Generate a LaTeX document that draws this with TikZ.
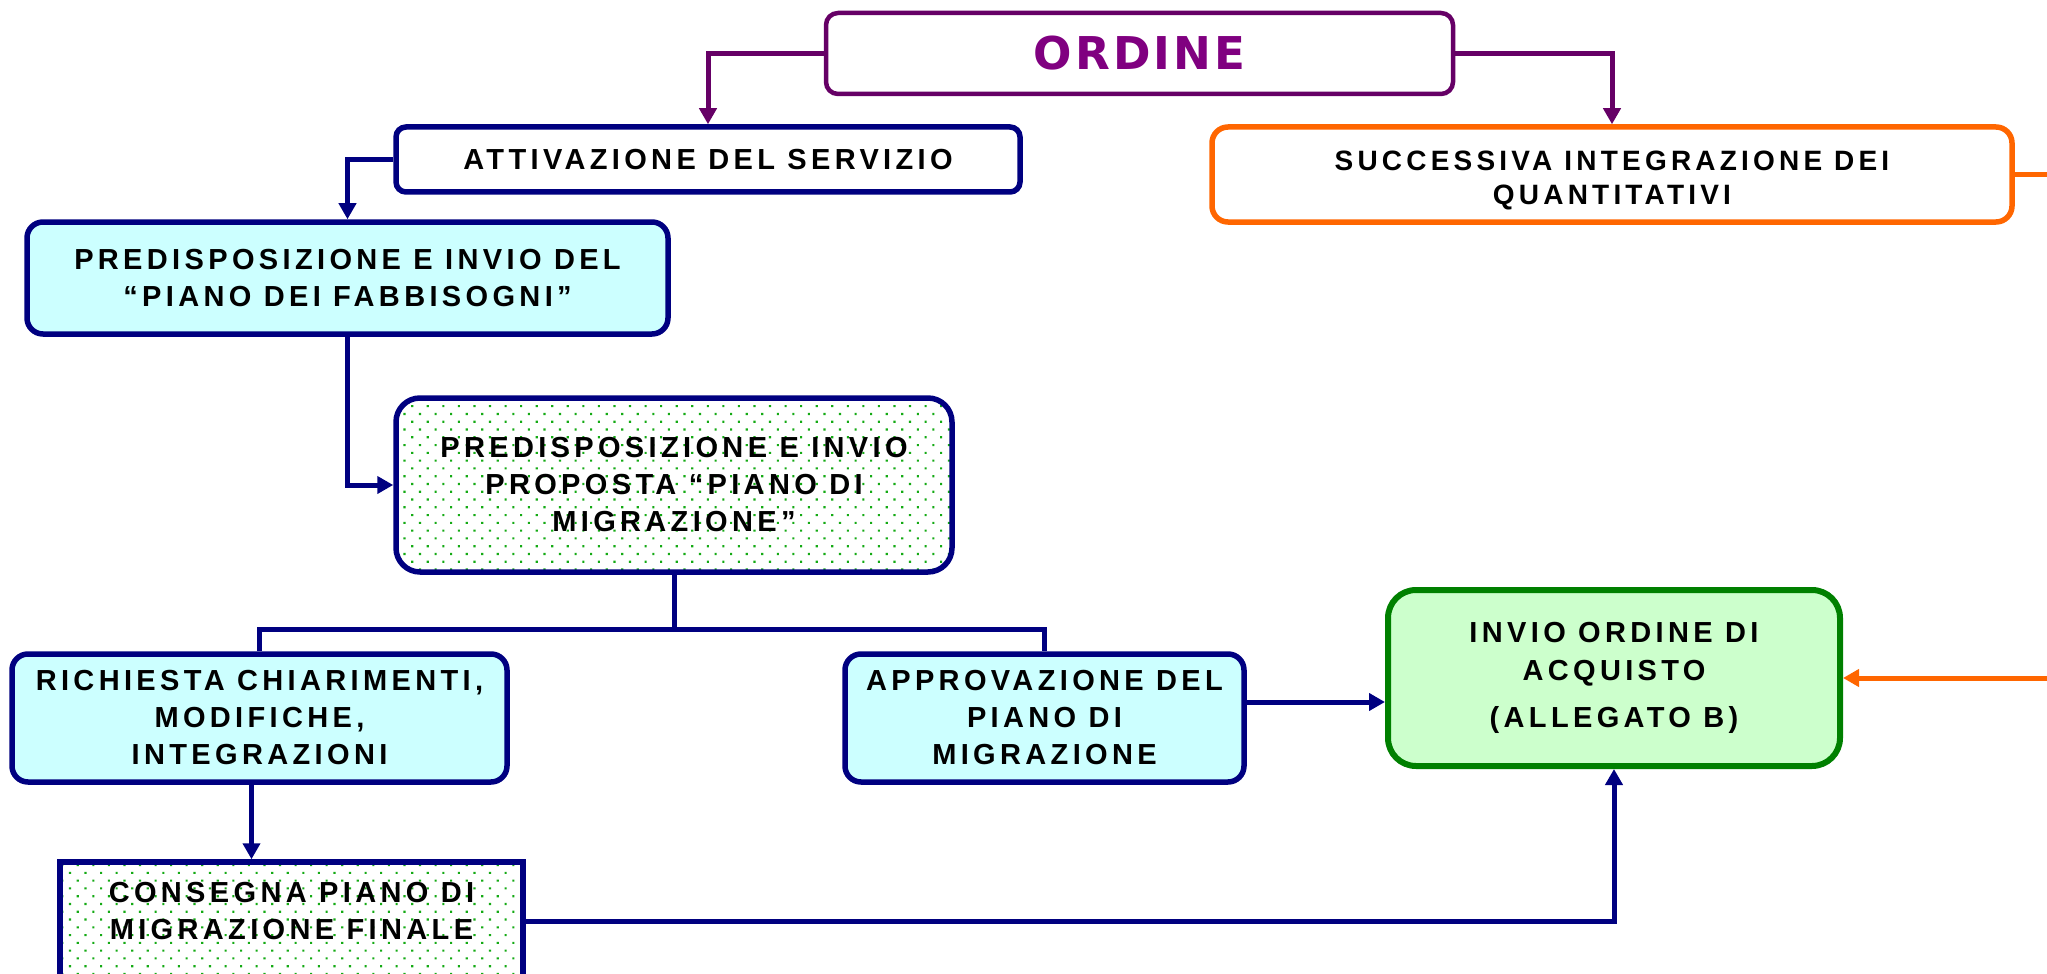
\documentclass[tikz,border=0pt]{standalone}
\usepackage{fontspec}
\setmainfont{Liberation Sans}
\newfontfamily\boxfont[LetterSpace=15]{Liberation Sans}
\newfontfamily\titlefont[LetterSpace=7]{DejaVu Sans}
\usetikzlibrary{arrows.meta,patterns.meta,calc}

\definecolor{navyline}{RGB}{0,0,128}
\definecolor{purpleline}{RGB}{102,0,102}
\definecolor{purpletext}{RGB}{128,0,128}
\definecolor{orangeline}{RGB}{255,102,0}
\definecolor{cyanfill}{RGB}{204,255,255}
\definecolor{greenfill}{RGB}{204,255,204}
\definecolor{greenline}{RGB}{0,128,0}
\definecolor{dotgreen}{RGB}{20,170,20}

\tikzset{
  box/.style={draw=navyline, line width=2.75pt, rounded corners=8pt, align=center,
    inner sep=0pt, font=\boxfont\bfseries\fontsize{14.5}{18.5}\selectfont},
  cyanbox/.style={box, fill=cyanfill},
  dotbox/.style={box, preaction={fill=white},
    pattern={Dots[radius=0.75pt,distance=5.5pt,angle=45]}, pattern color=dotgreen},
  boxtext/.style={align=center, inner sep=0pt, font=\boxfont\bfseries\fontsize{14.5}{18.5}\selectfont},
  link/.style={draw=navyline, line width=2.5pt},
  arr/.style={link, -{Triangle[length=8pt,width=8.5pt]}},
}

\begin{document}
\begin{tikzpicture}[x=0.5pt,y=-0.5pt]
    \useasboundingbox (0,0) rectangle (2047,974);
    \clip (0,0) rectangle (2047,974);

    % ordine
    \node[box, draw=purpleline, line width=2.25pt, rounded corners=6pt, text=purpletext,
      font=\titlefont\bfseries\fontsize{22.6}{26}\selectfont,
      minimum width=313.5pt, minimum height=40.5pt] (ordine) at (1139.5,53.5) {ORDINE};

    % i due rami
    \node[box, rounded corners=5pt, minimum width=312pt, minimum height=32.5pt]
      (attiv) at (708,159.5) {ATTIVAZIONE DEL SERVIZIO};
    \node[box, draw=orangeline, minimum width=400pt, minimum height=47.5pt]
      (succ) at (1612,174.5) {};
    \node[boxtext, font=\boxfont\bfseries\fontsize{14}{17}\selectfont]
      (succ-t) at ([yshift=-3pt]succ.center) {SUCCESSIVA INTEGRAZIONE DEI\\QUANTITATIVI};

    % piano dei fabbisogni e piano di migrazione
    \node[cyanbox, minimum width=320.5pt, minimum height=56pt]
      (fabb) at (347.5,278) {PREDISPOSIZIONE E INVIO DEL\\“PIANO DEI FABBISOGNI”};
    \node[dotbox, rounded corners=12pt, minimum width=278pt, minimum height=87pt]
      (piano) at (674,485) {PREDISPOSIZIONE E INVIO\\PROPOSTA “PIANO DI\\MIGRAZIONE”};

    % esiti
    \node[cyanbox, minimum width=247.5pt, minimum height=64pt]
      (rich) at (259.5,718) {RICHIESTA CHIARIMENTI,\\MODIFICHE,\\INTEGRAZIONI};
    \node[cyanbox, minimum width=199.5pt, minimum height=64pt]
      (appr) at (1044.5,718) {APPROVAZIONE DEL\\PIANO DI\\MIGRAZIONE};
    \node[box, fill=greenfill, draw=greenline, line width=3pt, rounded corners=14pt,
      minimum width=226pt, minimum height=88pt]
      (invio) at (1614,678) {INVIO ORDINE DI\\[0.5pt]ACQUISTO\\[5pt](ALLEGATO B)};

    % consegna finale
    \node[dotbox, rounded corners=0pt, minimum width=231.5pt, minimum height=59pt]
      (consegna) at (291.5,921) {};
    \node[boxtext] (consegna-t) at ([yshift=5pt]consegna.center)
      {CONSEGNA PIANO DI\\MIGRAZIONE FINALE};

    % collegamenti
    \draw[arr, draw=purpleline] (ordine.west) -| (attiv.north);
    \draw[arr, draw=purpleline] (ordine.east) -| (succ.north);
    \draw[arr] (attiv.west) -| (fabb.north);
    \draw[arr] (fabb.south) |- (piano.west);
    \coordinate (split) at ($(piano.south)+(0,55)$);
    \draw[link] (piano.south) -- (split);
    \draw[link] (rich.north) |- (split) -| (appr.north);
    \draw[arr] ([yshift=8pt]appr.east) -- ([yshift=8pt]appr.east -| invio.west);
    \draw[arr] ([xshift=-4pt]rich.south) -- ([xshift=-4pt]rich.south |- consegna.north);
    \draw[arr] (consegna.east) -| (invio.south);
    \draw[arr, draw=orangeline] (succ.east) -- ++(60,0) |- (invio.east);
  \end{tikzpicture}
\end{document}
